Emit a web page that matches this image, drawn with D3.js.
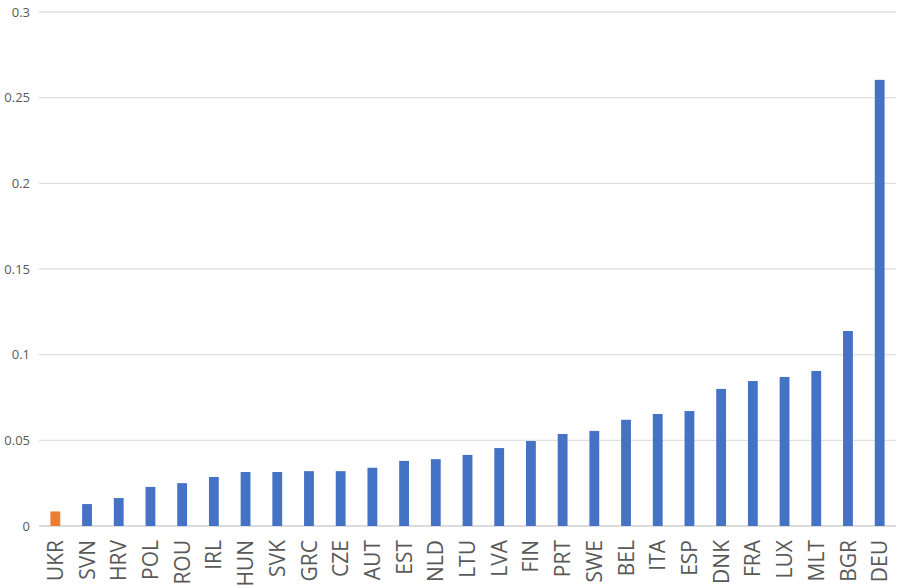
<!DOCTYPE html>
<html><head><meta charset="utf-8">
<script src="https://cdn.jsdelivr.net/npm/d3@7"></script>
<style>body{margin:0;background:#fff}svg{display:block}</style>
</head><body>
<svg id="c" width="900" height="588"></svg>
<script>
const categories = ["UKR","SVN","HRV","POL","ROU","IRL","HUN","SVK","GRC","CZE","AUT","EST","NLD","LTU","LVA","FIN","PRT","SWE","BEL","ITA","ESP","DNK","FRA","LUX","MLT","BGR","DEU"];
const values = [0.0085,0.0128,0.0163,0.0228,0.025,0.0286,0.0315,0.0315,0.032,0.032,0.034,0.038,0.039,0.0415,0.0455,0.0496,0.0537,0.0555,0.062,0.0654,0.0671,0.080,0.0846,0.087,0.0905,0.1138,0.2604];
const highlight = ["UKR"];
const yTicks = [0,0.05,0.1,0.15,0.2,0.25,0.3];
const yTickLabels = ["0","0.05","0.1","0.15","0.2","0.25","0.3"];

const svg = d3.select("#c");
const L=39, R=896, T=12, B=526;
const x = d3.scaleBand().domain(categories).range([L,R]).paddingInner(0.69).paddingOuter(0.36);
const y = d3.scaleLinear().domain([0,0.3]).range([B,T]);

svg.append("g").selectAll("line").data(yTicks).join("line")
  .attr("x1",L).attr("x2",R).attr("y1",d=>y(d)).attr("y2",d=>y(d))
  .attr("stroke",d=>d===0?"#d0d0d0":"#e0e0e0").attr("stroke-width",1.3);

const yAxis = d3.axisLeft(y).tickValues(yTicks).tickFormat((d,i)=>yTickLabels[i]).tickSize(0).tickPadding(9);
const ga = svg.append("g").attr("transform",`translate(${L},0)`).call(yAxis);
ga.select(".domain").remove();
ga.selectAll("text").attr("fill","#595959").style("font-family","'Open Sans', sans-serif").style("font-size","13px");

svg.append("g").selectAll("rect").data(categories).join("rect")
  .attr("x",d=>x(d)).attr("width",x.bandwidth())
  .attr("y",(d,i)=>y(values[i])).attr("height",(d,i)=>B-y(values[i]))
  .attr("fill",d=>highlight.includes(d)?"#ED7D31":"#4472C4");

const xAxis = d3.axisBottom(x).tickSize(0).tickPadding(0);
const gx = svg.append("g").attr("transform",`translate(0,${B})`).call(xAxis);
gx.select(".domain").remove();
gx.selectAll("text")
  .attr("transform","rotate(-90)")
  .attr("x",-14).attr("y",0).attr("dy","0.36em")
  .attr("text-anchor","end")
  .attr("fill","#595959")
  .style("font-family","'Open Sans', sans-serif").style("font-size","21px");
</script>
</body></html>
